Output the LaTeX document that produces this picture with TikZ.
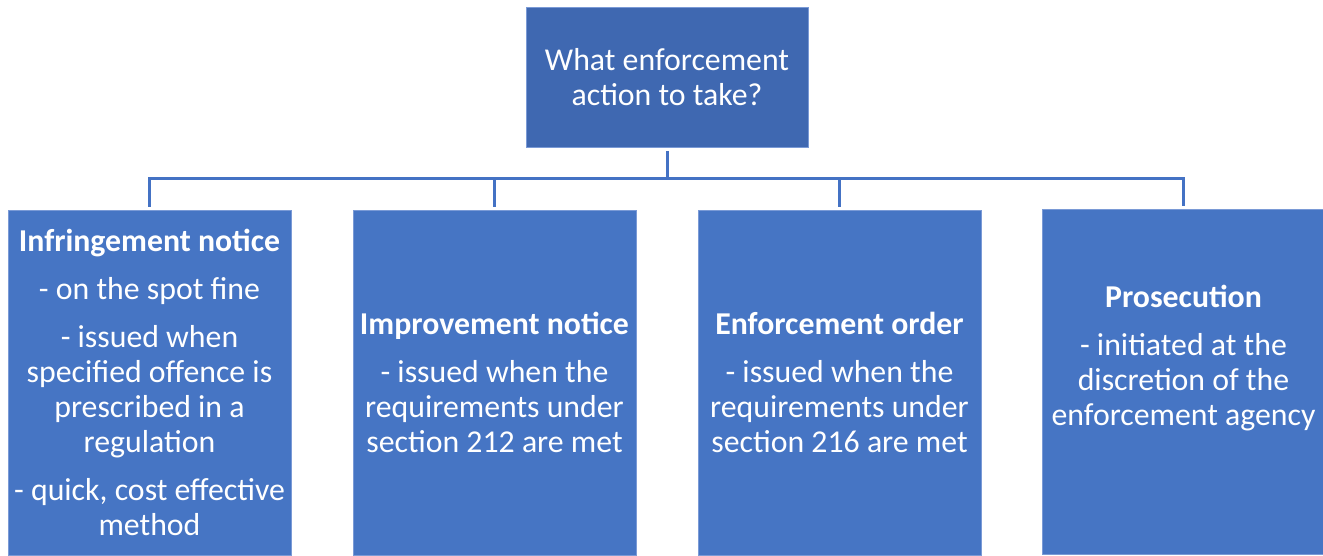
\documentclass[tikz,border=0pt]{standalone}
\usepackage{fontspec}
\setmainfont{Carlito}
\definecolor{topblue}{HTML}{3F68B1}
\definecolor{boxblue}{HTML}{4675C4}
\definecolor{edgeblue}{HTML}{7A9AD6}
\definecolor{linkblue}{HTML}{4472C4}
\tikzset{
  topbox/.style={fill=topblue, draw=edgeblue, line width=0.8pt, minimum width=282pt, minimum height=140pt, text=white, align=center, font=\fontsize{31.8}{35}\selectfont},
  actbox/.style={fill=boxblue, draw=edgeblue, line width=0.8pt, minimum width=283pt, minimum height=345pt, text=white, align=center, font=\fontsize{31.8}{35}\selectfont},
  link/.style={linkblue, line width=3pt, shorten <=3pt, shorten >=3pt}
}
\begin{document}
\begin{tikzpicture}[x=1pt,y=-1pt]
        \useasboundingbox (0,0) rectangle (1323,555);
        \node [topbox] (ask) at (667,77.5) {What enforcement\\action to take?};

        \node [actbox] (infr) at (149.5,382.5) {\textbf{Infringement notice}\\[13pt]- on the spot fine\\[13pt]- issued when\\specified offence is\\prescribed in a\\regulation\\[13pt]- quick, cost effective\\method};
        \node [actbox] (impr) at (494.5,382.5) {\textbf{Improvement notice}\\[13pt]- issued when the\\requirements under\\section 212 are met};
        \node [actbox] (enfo) at (839.5,382.5) {\textbf{Enforcement order}\\[13pt]- issued when the\\requirements under\\section 216 are met};
        \node [actbox] (pros) at (1183.5,381.5) {\textbf{Prosecution}\\[13pt]- initiated at the\\discretion of the\\enforcement agency\\[17pt]~};

        \coordinate (bus) at (667,178);
        \draw [link, shorten >=0pt] (ask.south) -- (bus);
        \draw [link, shorten <=0pt] (bus) -| (infr.north);
        \draw [link, shorten <=0pt] (bus) -| (impr.north);
        \draw [link, shorten <=0pt] (bus) -| (enfo.north);
        \draw [link, shorten <=0pt] (bus) -| (pros.north);
    \end{tikzpicture}
\end{document}
